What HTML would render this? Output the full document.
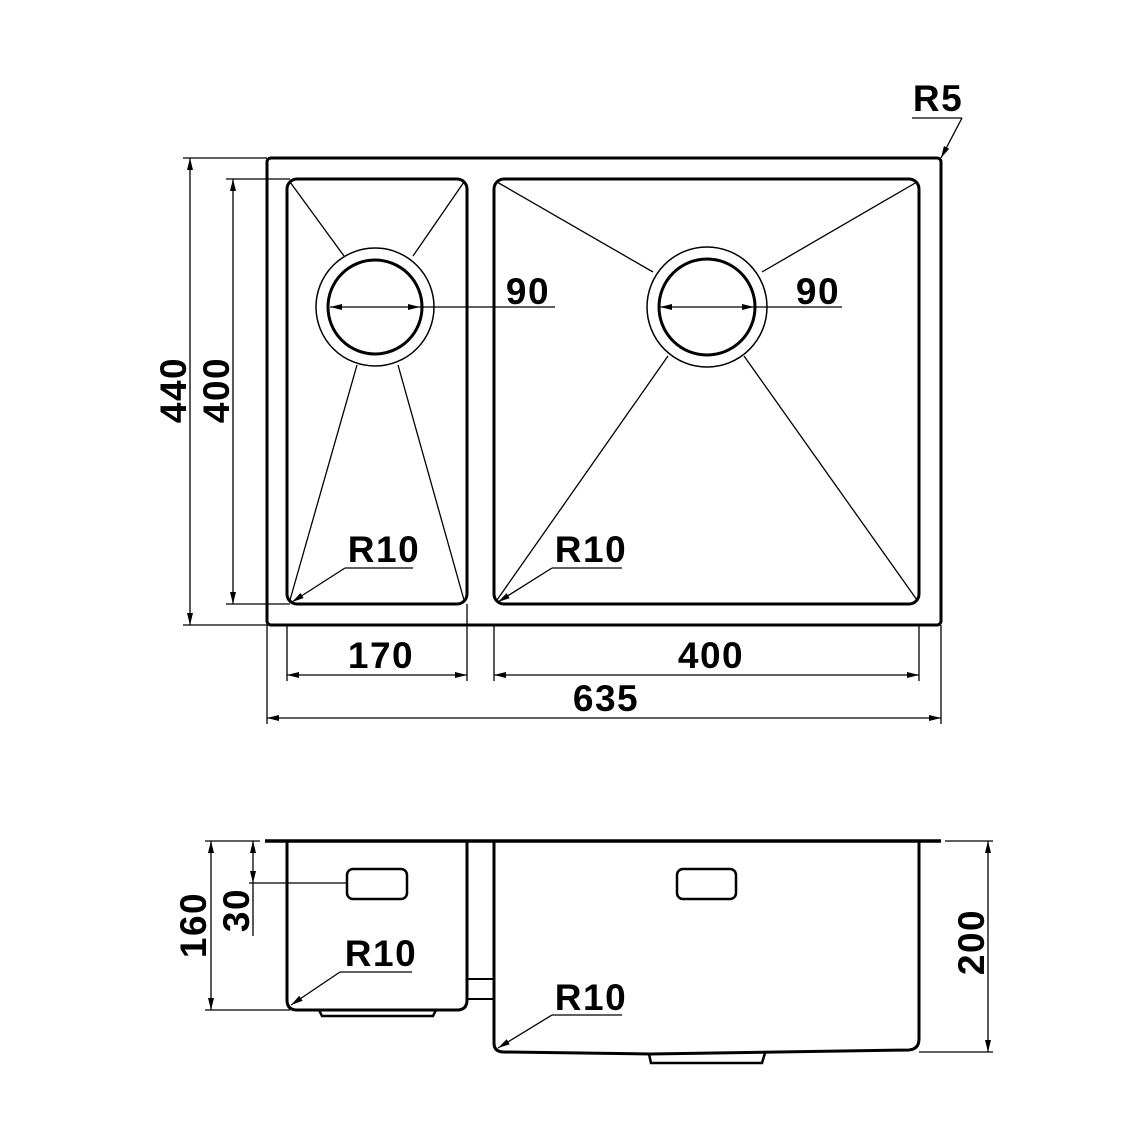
<!DOCTYPE html>
<html><head><style>body{margin:0;background:#fff}svg{display:block}text{font-family:"Liberation Sans",sans-serif;font-weight:bold;font-size:37px;letter-spacing:1.5px;fill:#000}</style></head>
<body>
<svg width="1142" height="1142" viewBox="0 0 1142 1142" xmlns="http://www.w3.org/2000/svg">
<defs>
<marker id="a" viewBox="0 0 12 6" refX="12" refY="3" markerWidth="12" markerHeight="6" orient="auto-start-reverse" markerUnits="userSpaceOnUse"><path d="M0,0 L12,3 L0,6 z" fill="#000"/></marker>
</defs>
<g fill="none" stroke="#000">
<rect x="267" y="158" width="674" height="467" rx="4" stroke-width="3"/>
<rect x="287" y="179" width="180" height="425" rx="10" stroke-width="3"/>
<rect x="494" y="179" width="425" height="425" rx="10" stroke-width="3"/>
<circle cx="375" cy="307" r="59" stroke-width="1.5"/>
<circle cx="375" cy="307" r="47" stroke-width="3"/>
<circle cx="707" cy="307" r="60" stroke-width="1.5"/>
<circle cx="707" cy="307" r="48" stroke-width="3"/>
<g stroke-width="1.3">
<line x1="290" y1="182" x2="344" y2="256"/><line x1="464" y1="182" x2="413" y2="256"/>
<line x1="290" y1="600" x2="357" y2="365"/><line x1="464" y1="600" x2="398" y2="365"/>
<line x1="497" y1="182" x2="653" y2="272"/><line x1="917" y1="182" x2="762" y2="272"/>
<line x1="497" y1="600" x2="668" y2="356"/><line x1="917" y1="600" x2="744" y2="356"/>
<line x1="330" y1="307" x2="420" y2="307" marker-start="url(#a)" marker-end="url(#a)"/>
<line x1="420" y1="307" x2="555" y2="307"/>
<line x1="660" y1="307" x2="754" y2="307" marker-start="url(#a)" marker-end="url(#a)"/>
<line x1="754" y1="307" x2="842" y2="307"/>
<line x1="183" y1="158" x2="267" y2="158"/><line x1="183" y1="625" x2="267" y2="625"/>
<line x1="190" y1="158" x2="190" y2="625" marker-start="url(#a)" marker-end="url(#a)"/>
<line x1="226" y1="179" x2="290" y2="179"/><line x1="226" y1="604" x2="290" y2="604"/>
<line x1="233" y1="179" x2="233" y2="604" marker-start="url(#a)" marker-end="url(#a)"/>
<line x1="287" y1="625" x2="287" y2="681"/><line x1="467" y1="604" x2="467" y2="681"/>
<line x1="287" y1="675" x2="467" y2="675" marker-start="url(#a)" marker-end="url(#a)"/>
<line x1="494" y1="625" x2="494" y2="681"/><line x1="919" y1="625" x2="919" y2="681"/>
<line x1="494" y1="675" x2="919" y2="675" marker-start="url(#a)" marker-end="url(#a)"/>
<line x1="267" y1="625" x2="267" y2="724"/><line x1="941" y1="625" x2="941" y2="724"/>
<line x1="267" y1="718" x2="941" y2="718" marker-start="url(#a)" marker-end="url(#a)"/>
<line x1="345" y1="568" x2="413" y2="568"/><line x1="345" y1="568" x2="292" y2="602" marker-end="url(#a)"/>
<line x1="552" y1="568" x2="622" y2="568"/><line x1="552" y1="568" x2="498" y2="602" marker-end="url(#a)"/>
<line x1="912" y1="118" x2="962" y2="118"/><line x1="962" y1="118" x2="941" y2="158" marker-end="url(#a)"/>
</g>
<line x1="265" y1="841" x2="941" y2="841" stroke-width="3.5"/>
<path d="M287,841 V1000 Q287,1010 297,1010 H457 Q467,1010 467,1000 V841" stroke-width="3"/>
<path d="M467,979 H494 M467,999 H494" stroke-width="2"/>
<path d="M319,1010 L322,1016 H433 L436,1010" stroke-width="2.5"/>
<path d="M494,841 V1043 Q494,1052 504,1052 L650,1054 L909,1050 Q919,1049 919,1039 V841" stroke-width="3"/>
<path d="M649,1054 L651,1063 H762 L765,1053" stroke-width="2.5"/>
<rect x="347" y="869" width="60" height="30" rx="6" stroke-width="2.5"/>
<rect x="677" y="869" width="59" height="30" rx="6" stroke-width="2.5"/>
<g stroke-width="1.3">
<line x1="205" y1="841" x2="260" y2="841"/><line x1="205" y1="1010" x2="290" y2="1010"/>
<line x1="211" y1="841" x2="211" y2="1010" marker-start="url(#a)" marker-end="url(#a)"/>
<line x1="253" y1="841" x2="253" y2="883" marker-start="url(#a)" marker-end="url(#a)"/>
<line x1="253" y1="883" x2="253" y2="936"/>
<line x1="249" y1="883" x2="347" y2="883"/>
<line x1="945" y1="841" x2="993" y2="841"/><line x1="919" y1="1052" x2="993" y2="1052"/>
<line x1="988" y1="841" x2="988" y2="1052" marker-start="url(#a)" marker-end="url(#a)"/>
<line x1="340" y1="972" x2="412" y2="972"/><line x1="340" y1="972" x2="291" y2="1005" marker-end="url(#a)"/>
<line x1="552" y1="1015" x2="622" y2="1015"/><line x1="552" y1="1015" x2="498" y2="1048" marker-end="url(#a)"/>
</g>
</g>
<g text-anchor="middle">
<text x="528" y="304">90</text>
<text x="818" y="304">90</text>
<text x="381" y="668">170</text>
<text x="711" y="668">400</text>
<text x="606" y="711">635</text>
<text x="384" y="562">R10</text>
<text x="591" y="562">R10</text>
<text x="938" y="111">R5</text>
<text x="381" y="966">R10</text>
<text x="591" y="1010">R10</text>
<text transform="translate(186,390) rotate(-90)">440</text>
<text transform="translate(229,390) rotate(-90)">400</text>
<text transform="translate(206,925) rotate(-90)">160</text>
<text transform="translate(249,910) rotate(-90)">30</text>
<text transform="translate(984,942) rotate(-90)">200</text>
</g>
</svg>
</body></html>
